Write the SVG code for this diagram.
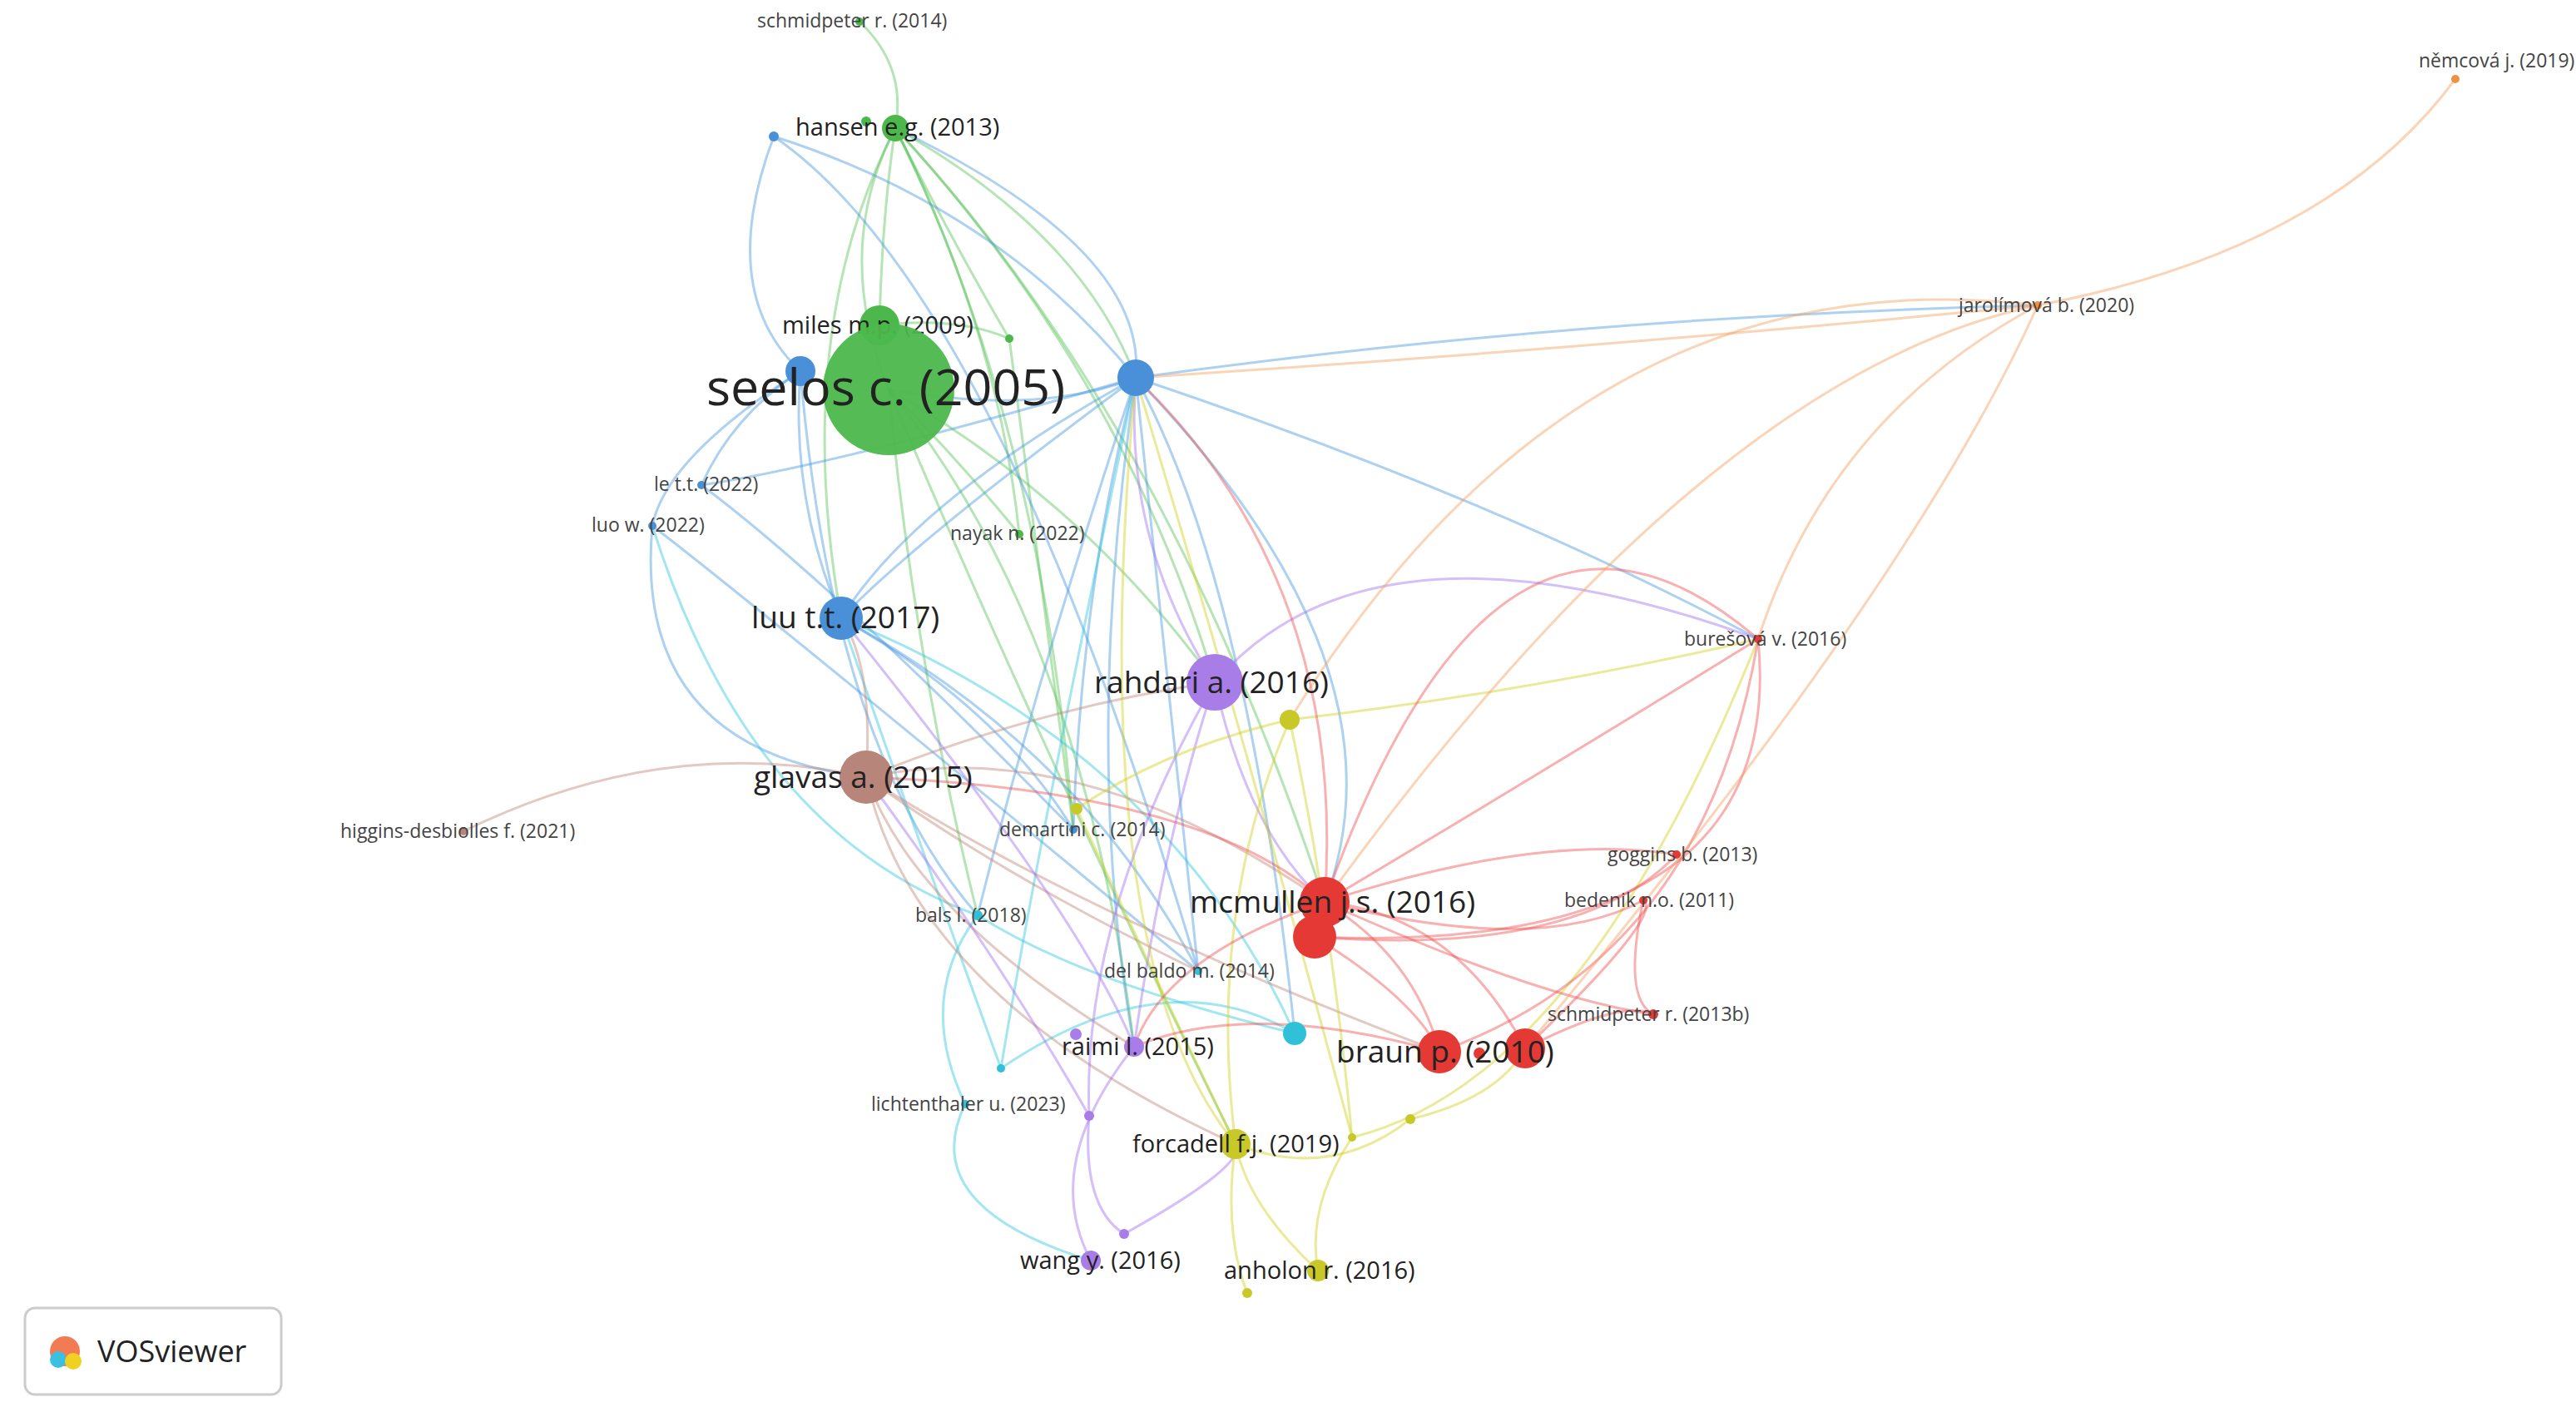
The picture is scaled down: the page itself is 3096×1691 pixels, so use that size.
<svg xmlns="http://www.w3.org/2000/svg" width="3096" height="1691" viewBox="0 0 3096 1691">
<style>
.e{fill:none;stroke-width:3;stroke-opacity:.45}
.g{stroke:#5cc45c}.b{stroke:#4a9ae0}.r{stroke:#f05050}.p{stroke:#a070f0}.y{stroke:#d0d020}.c{stroke:#30c8e0}.w{stroke:#c08878}.o{stroke:#f5a060}
text{font-family:"Open Sans","Liberation Sans",sans-serif;fill:#222}
.s{font-size:23px;fill:#444}.m{font-size:29px}.l{font-size:37px}
</style>
<rect width="3096" height="1691" fill="#fff"/>
<g id="connectors">
<path class="e g" d="M1033 26 Q1090 80 1076 154"/>
<path class="e g" d="M1076 154 Q1000 300 1068 468"/>
<path class="e g" d="M1076 154 Q1060 260 1057 391"/>
<path class="e g" d="M1076 154 Q1150 300 1213 407"/>
<path class="e g" d="M1076 154 Q1300 280 1365 454"/>
<path class="e g" d="M1076 154 Q1200 400 1225 642"/>
<path class="e g" d="M1076 154 Q1350 450 1460 820"/>
<path class="e g" d="M1076 154 Q1250 500 1290 997"/>
<path class="e g" d="M1076 154 Q950 400 1011 743"/>
<path class="e g" d="M1076 154 Q1400 500 1592 1084"/>
<path class="e g" d="M1068 468 Q1150 550 1225 642"/>
<path class="e g" d="M1068 468 Q1300 600 1460 820"/>
<path class="e g" d="M1068 468 Q1100 800 1175 1100"/>
<path class="e g" d="M1068 468 Q1300 750 1363 1258"/>
<path class="e g" d="M1068 468 Q1250 900 1485 1375"/>
<path class="e g" d="M1057 391 Q1150 380 1213 407"/>
<path class="e g" d="M1213 407 Q1250 700 1290 997"/>
<path class="e b" d="M930 164 Q860 350 962 446"/>
<path class="e b" d="M930 164 Q1200 350 1440 1167"/>
<path class="e b" d="M962 446 Q800 550 784 632"/>
<path class="e b" d="M962 446 Q880 500 843 583"/>
<path class="e b" d="M962 446 Q950 600 1011 743"/>
<path class="e b" d="M962 446 Q1000 900 1175 1100"/>
<path class="e b" d="M1365 454 Q1200 250 930 164"/>
<path class="e b" d="M1365 454 Q1000 560 843 583"/>
<path class="e b" d="M1365 454 Q1100 650 1011 743"/>
<path class="e b" d="M1365 454 Q1380 300 1076 154"/>
<path class="e b" d="M1365 454 Q1300 700 1290 997"/>
<path class="e b" d="M1365 454 Q1250 800 1175 1100"/>
<path class="e b" d="M1365 454 Q1400 800 1440 1167"/>
<path class="e b" d="M1365 454 Q1300 900 1363 1258"/>
<path class="e b" d="M1365 454 Q1500 700 1556 1242"/>
<path class="e b" d="M1365 454 Q1700 800 1592 1084"/>
<path class="e b" d="M1365 454 Q1800 600 2113 768"/>
<path class="e b" d="M1365 454 Q1900 380 2449 367"/>
<path class="e b" d="M1365 454 Q1250 500 1068 468"/>
<path class="e b" d="M843 583 Q1000 700 1290 997"/>
<path class="e b" d="M784 632 Q900 720 1440 1167"/>
<path class="e b" d="M784 632 Q760 900 1041 934"/>
<path class="e b" d="M1011 743 Q1200 850 1290 997"/>
<path class="e b" d="M1011 743 Q1300 900 1440 1167"/>
<path class="e b" d="M1011 743 Q1100 600 1365 454"/>
<path class="e c" d="M1175 1100 Q1100 1200 1160 1327"/>
<path class="e c" d="M1175 1100 Q1300 1180 1556 1242"/>
<path class="e c" d="M1203 1284 Q1100 1000 1011 743"/>
<path class="e c" d="M1203 1284 Q1250 1000 1365 454"/>
<path class="e c" d="M1203 1284 Q1400 1150 1556 1242"/>
<path class="e c" d="M1556 1242 Q1400 900 1011 743"/>
<path class="e c" d="M1175 1100 Q900 1000 784 632"/>
<path class="e c" d="M1160 1327 Q1100 1450 1311 1515"/>
<path class="e w" d="M1041 934 Q800 880 557 999"/>
<path class="e w" d="M1041 934 Q1300 880 1592 1084"/>
<path class="e w" d="M1041 934 Q1100 1200 1485 1375"/>
<path class="e w" d="M1041 934 Q1300 1100 1730 1264"/>
<path class="e w" d="M1041 934 Q1100 1100 1363 1258"/>
<path class="e w" d="M1041 934 Q1200 1050 1440 1167"/>
<path class="e w" d="M1041 934 Q1050 800 1011 743"/>
<path class="e w" d="M1041 934 Q1250 850 1460 820"/>
<path class="e p" d="M1460 820 Q1400 1000 1363 1258"/>
<path class="e p" d="M1460 820 Q1300 1100 1309 1341"/>
<path class="e p" d="M1460 820 Q1500 1000 1592 1084"/>
<path class="e p" d="M1460 820 Q1350 650 1365 454"/>
<path class="e p" d="M1460 820 Q1650 600 2113 768"/>
<path class="e p" d="M1363 1258 Q1250 1400 1311 1515"/>
<path class="e p" d="M1309 1341 Q1300 1450 1351 1483"/>
<path class="e p" d="M1351 1483 Q1500 1400 1485 1375"/>
<path class="e p" d="M1363 1258 Q1300 1100 1011 743"/>
<path class="e p" d="M1309 1341 Q1200 1150 1041 934"/>
<path class="e y" d="M1550 865 Q1850 830 2113 768"/>
<path class="e y" d="M1550 865 Q1450 1100 1485 1375"/>
<path class="e y" d="M1550 865 Q1600 1100 1625 1367"/>
<path class="e y" d="M1550 865 Q1400 900 1294 972"/>
<path class="e y" d="M1294 972 Q1400 1200 1485 1375"/>
<path class="e y" d="M1485 1375 Q1500 1450 1584 1527"/>
<path class="e y" d="M1485 1375 Q1470 1480 1499 1554"/>
<path class="e y" d="M1485 1375 Q1600 1420 1695 1345"/>
<path class="e y" d="M1625 1367 Q1570 1450 1584 1527"/>
<path class="e y" d="M1625 1367 Q1900 1300 2113 768"/>
<path class="e y" d="M1695 1345 Q1800 1320 1833 1260"/>
<path class="e y" d="M1485 1375 Q1300 1150 1365 454"/>
<path class="e y" d="M1625 1367 Q1500 900 1365 454"/>
<path class="e r" d="M1592 1084 Q1900 900 2113 768"/>
<path class="e r" d="M1592 1084 Q1850 1000 2015 1027"/>
<path class="e r" d="M1592 1084 Q1850 1150 1975 1082"/>
<path class="e r" d="M1592 1084 Q1850 1200 1987 1219"/>
<path class="e r" d="M1592 1084 Q1700 1150 1730 1264"/>
<path class="e r" d="M1592 1084 Q1750 1100 1833 1260"/>
<path class="e r" d="M1592 1084 Q1450 950 1041 934"/>
<path class="e r" d="M1592 1084 Q1620 700 1365 454"/>
<path class="e r" d="M1592 1084 Q1800 500 2113 768"/>
<path class="e r" d="M1580 1126 Q2150 1150 2113 768"/>
<path class="e r" d="M1580 1126 Q1900 1150 2015 1027"/>
<path class="e r" d="M1580 1126 Q1700 1200 1730 1264"/>
<path class="e r" d="M1730 1264 Q2050 1150 2113 768"/>
<path class="e r" d="M1833 1260 Q2000 1100 1975 1082"/>
<path class="e r" d="M1833 1260 Q1950 1200 1987 1219"/>
<path class="e r" d="M1975 1082 Q1950 1200 1987 1219"/>
<path class="e r" d="M1730 1264 Q1500 1200 1363 1258"/>
<path class="e r" d="M1592 1084 Q1400 1150 1363 1258"/>
<path class="e o" d="M2449 367 Q1900 420 1365 454"/>
<path class="e o" d="M2449 367 Q2050 450 1592 1084"/>
<path class="e o" d="M2449 367 Q2300 700 1833 1260"/>
<path class="e o" d="M2449 367 Q2200 500 2113 768"/>
<path class="e o" d="M2449 367 Q2800 300 2951 95"/>
<path class="e o" d="M2449 367 Q1900 300 1550 865"/>
</g>
<g id="n-schmidpeter2014"><circle cx="1033" cy="26" r="5" fill="#4cb84c"/><text class="s" x="910" y="33">schmidpeter r. (2014)</text></g>
<g id="n-hansen"><circle cx="1041" cy="146" r="6" fill="#4cb84c"/><circle cx="1076" cy="154" r="16" fill="#4cb84c"/><text class="m" x="956" y="163">hansen e.g. (2013)</text></g>
<g id="n-blue-top"><circle cx="930" cy="164" r="6" fill="#4a90d9"/></g>
<g id="n-miles"><circle cx="1057" cy="391" r="24" fill="#4cb84c"/><text class="m" x="940" y="401">miles m.p. (2009)</text></g>
<g id="n-green-small"><circle cx="1213" cy="407" r="5" fill="#4cb84c"/></g>
<g id="n-blue1"><circle cx="962" cy="446" r="18" fill="#4a90d9"/></g>
<g id="n-blue2"><circle cx="1365" cy="454" r="22" fill="#4a90d9"/></g>
<g id="n-seelos"><circle cx="1068" cy="468" r="79" fill="#4cb84c" fill-opacity=".95"/><text x="849" y="487" font-size="61">seelos c. (2005)</text></g>
<g id="n-le"><circle cx="843" cy="583" r="5" fill="#4a90d9"/><text class="s" x="786" y="590">le t.t. (2022)</text></g>
<g id="n-luo"><circle cx="784" cy="632" r="5" fill="#4a90d9"/><text class="s" x="711" y="639">luo w. (2022)</text></g>
<g id="n-nayak"><circle cx="1225" cy="642" r="5" fill="#4cb84c"/><text class="s" x="1142" y="649">nayak n. (2022)</text></g>
<g id="n-luu"><circle cx="1011" cy="743" r="26" fill="#4a90d9"/><text class="l" x="903" y="755">luu t.t. (2017)</text></g>
<g id="n-rahdari"><circle cx="1460" cy="820" r="34" fill="#a97de8"/><text class="l" x="1315" y="833">rahdari a. (2016)</text></g>
<g id="n-y1"><circle cx="1550" cy="865" r="12" fill="#c8c828"/></g>
<g id="n-glavas"><circle cx="1041" cy="934" r="32" fill="#b8857a"/><text class="l" x="906" y="947">glavas a. (2015)</text></g>
<g id="n-higgins"><circle cx="557" cy="999" r="5" fill="#b8857a"/><text class="s" x="409" y="1007">higgins-desbiolles f. (2021)</text></g>
<g id="n-y2"><circle cx="1294" cy="972" r="7" fill="#c8c828"/></g>
<g id="n-demartini"><circle cx="1290" cy="997" r="5" fill="#4a90d9"/><text class="s" x="1201" y="1005">demartini c. (2014)</text></g>
<g id="n-mcmullen"><circle cx="1580" cy="1126" r="26" fill="#e53935"/><circle cx="1592" cy="1084" r="30" fill="#e53935"/><text class="l" x="1430" y="1097">mcmullen j.s. (2016)</text></g>
<g id="n-goggins"><circle cx="2015" cy="1027" r="5" fill="#e53935"/><text class="s" x="1932" y="1035">goggins b. (2013)</text></g>
<g id="n-bedenik"><circle cx="1975" cy="1082" r="5" fill="#e53935"/><text class="s" x="1880" y="1090">bedenik n.o. (2011)</text></g>
<g id="n-bals"><circle cx="1175" cy="1100" r="6" fill="#30c0d8"/><text class="s" x="1100" y="1108">bals l. (2018)</text></g>
<g id="n-delbaldo"><circle cx="1440" cy="1167" r="5" fill="#30c0d8"/><text class="s" x="1327" y="1175">del baldo m. (2014)</text></g>
<g id="n-cyan"><circle cx="1556" cy="1242" r="14" fill="#30c0d8"/></g>
<g id="n-schmidpeter2013b"><circle cx="1987" cy="1219" r="6" fill="#e53935"/><text class="s" x="1860" y="1227">schmidpeter r. (2013b)</text></g>
<g id="n-braun"><circle cx="1833" cy="1260" r="24" fill="#e53935"/><circle cx="1778" cy="1266" r="7" fill="#e53935"/><circle cx="1730" cy="1264" r="26" fill="#e53935"/><text class="l" x="1606" y="1277">braun p. (2010)</text></g>
<g id="n-raimi"><circle cx="1293" cy="1243" r="7" fill="#a97de8"/><circle cx="1363" cy="1258" r="12" fill="#a97de8"/><text class="m" x="1276" y="1268">raimi l. (2015)</text></g>
<g id="n-cyan2"><circle cx="1203" cy="1284" r="5" fill="#30c0d8"/></g>
<g id="n-lichtenthaler"><circle cx="1160" cy="1327" r="5" fill="#30c0d8"/><text class="s" x="1047" y="1335">lichtenthaler u. (2023)</text></g>
<g id="n-p1"><circle cx="1309" cy="1341" r="6" fill="#a97de8"/></g>
<g id="n-forcadell"><circle cx="1485" cy="1375" r="18" fill="#c8c828"/><text class="m" x="1361" y="1385">forcadell f.j. (2019)</text></g>
<g id="n-y3"><circle cx="1625" cy="1367" r="5" fill="#c8c828"/></g>
<g id="n-y4"><circle cx="1695" cy="1345" r="6" fill="#c8c828"/></g>
<g id="n-p2"><circle cx="1351" cy="1483" r="6" fill="#a97de8"/></g>
<g id="n-wang"><circle cx="1311" cy="1515" r="12" fill="#a97de8"/><text class="m" x="1226" y="1525">wang y. (2016)</text></g>
<g id="n-anholon"><circle cx="1584" cy="1527" r="13" fill="#c8c828"/><text class="m" x="1471" y="1537">anholon r. (2016)</text></g>
<g id="n-y5"><circle cx="1499" cy="1554" r="6" fill="#c8c828"/></g>
<g id="n-buresova"><circle cx="2113" cy="768" r="5" fill="#e53935"/><text class="s" x="2024" y="776">burešová v. (2016)</text></g>
<g id="n-jarolimova"><circle cx="2449" cy="367" r="5" fill="#f09040"/><text class="s" x="2354" y="375">jarolímová b. (2020)</text></g>
<g id="n-nemcova"><circle cx="2951" cy="95" r="5" fill="#f09040"/><text class="s" x="2907" y="81">němcová j. (2019)</text></g>
<g id="logo"><rect x="30" y="1572" width="308" height="104" rx="12" fill="#fff" stroke="#ccc" stroke-width="3"/><circle cx="78" cy="1624" r="18" fill="#f05a28" fill-opacity=".8"/><circle cx="70" cy="1634" r="10" fill="#3cc0e0"/><circle cx="88" cy="1636" r="10" fill="#f0d020"/><text x="117" y="1637" font-size="36" fill="#333">VOSviewer</text></g>
</svg>
